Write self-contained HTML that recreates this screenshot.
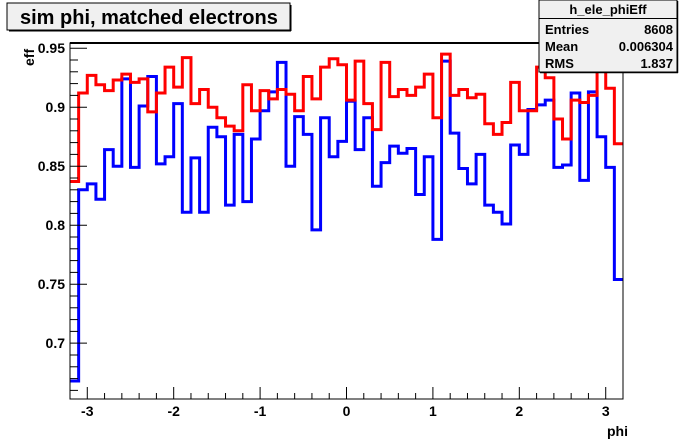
<!DOCTYPE html>
<html><head><meta charset="utf-8"><style>
body{margin:0;background:#fff;}
svg{display:block;font-family:"Liberation Sans",Arial,sans-serif;font-weight:bold;}
</style></head><body>
<svg width="692" height="444" viewBox="0 0 692 444">
<rect x="0" y="0" width="692" height="444" fill="#fff"/>
<g id="plot"></g>
<rect x="70" y="43" width="553" height="356" fill="none" stroke="#000" stroke-width="1"/>
<line x1="70" y1="43" x2="540" y2="43" stroke="#000" stroke-width="2"/>
<g id="axes"></g>
<g>
<rect x="7" y="3" width="283" height="27" fill="#f0f0f0" stroke="#000" stroke-width="1"/>
<line x1="9" y1="30.5" x2="291" y2="30.5" stroke="#000" stroke-width="2"/>
<line x1="290.5" y1="5" x2="290.5" y2="31" stroke="#000" stroke-width="2"/>
<text x="20" y="24" font-size="20" fill="#000">sim phi, matched electrons</text>
</g>
<g>
<rect x="539" y="0" width="138" height="72" fill="#f0f0f0" stroke="#000" stroke-width="1"/>
<line x1="540" y1="72.5" x2="678" y2="72.5" stroke="#000" stroke-width="1.5"/>
<line x1="677.5" y1="1" x2="677.5" y2="73" stroke="#000" stroke-width="1.5"/>
<line x1="539" y1="18.5" x2="677" y2="18.5" stroke="#000" stroke-width="1"/>
<text x="608" y="14" font-size="13" text-anchor="middle">h_ele_phiEff</text>
<text x="545" y="34" font-size="13">Entries</text>
<text x="673" y="34" font-size="13" text-anchor="end">8608</text>
<text x="545" y="51" font-size="13">Mean</text>
<text x="673" y="51" font-size="13" text-anchor="end">0.006304</text>
<text x="545" y="68" font-size="13">RMS</text>
<text x="673" y="68" font-size="13" text-anchor="end">1.837</text>
</g>
<text x="607" y="436" font-size="14">phi</text>
<text transform="translate(34,66) rotate(-90)" font-size="14">eff</text>
</svg>
<script>
const redVals=[0.837,0.912,0.927,0.919,0.914,0.923,0.928,0.921,0.924,0.896,0.912,0.934,0.917,0.942,0.903,0.915,0.900,0.891,0.884,0.880,0.919,0.897,0.914,0.907,0.915,0.911,0.897,0.926,0.907,0.934,0.941,0.936,0.906,0.939,0.903,0.881,0.938,0.909,0.915,0.910,0.917,0.928,0.891,0.945,0.910,0.915,0.908,0.911,0.886,0.877,0.887,0.921,0.897,0.897,0.934,0.925,0.890,0.873,0.906,0.904,0.910,0.944,0.916,0.869];
const blueVals=[0.668,0.830,0.835,0.822,0.864,0.850,0.924,0.849,0.901,0.926,0.852,0.858,0.903,0.811,0.857,0.811,0.883,0.875,0.817,0.877,0.820,0.873,0.897,0.913,0.938,0.850,0.892,0.877,0.796,0.891,0.858,0.871,0.905,0.864,0.891,0.833,0.853,0.867,0.861,0.865,0.826,0.858,0.788,0.939,0.878,0.848,0.835,0.860,0.817,0.811,0.801,0.868,0.860,0.898,0.902,0.906,0.849,0.851,0.912,0.838,0.913,0.875,0.849,0.754];
const yTickLabels=["0.7","0.75","0.8","0.85","0.9","0.95"];
const xTickLabels=["-3","-2","-1","0","1","2","3"];
const xMin=-3.2,xMax=3.2,yMin=0.6527,yMax=0.9544;
const L=70,R=623,T=43,B=399;
const sx=v=>L+(v-xMin)/(xMax-xMin)*(R-L);
const sy=v=>B-(v-yMin)/(yMax-yMin)*(B-T);
const NS="http://www.w3.org/2000/svg";
const plot=document.getElementById('plot'),axes=document.getElementById('axes');
function mk(tag,attrs,parent){const e=document.createElementNS(NS,tag);for(const k in attrs)e.setAttribute(k,attrs[k]);parent.appendChild(e);return e;}
function hist(vals,color,name){
  const n=vals.length,w=(xMax-xMin)/n;let d="";
  vals.forEach((v,i)=>{const x0=sx(xMin+i*w),x1=sx(xMin+(i+1)*w),y=Math.max(T,Math.min(B,sy(v)));d+=(i===0?"M":"L")+x0+","+y+"L"+x1+","+y;});
  const p=mk('path',{d:d,fill:'none',stroke:color,'stroke-width':3},plot);
  
  
}
hist(blueVals,'#0000ff','blue-series');
hist(redVals,'#ff0000','red-series');
// y ticks
for(let k=0;k<=30;k++){const v=0.65+k*0.01;if(v<yMin||v>yMax)continue;const y=sy(v);const major=(k%5===0);
  const t=mk('line',{x1:L,x2:L+(major?17:8),y1:y,y2:y,stroke:'#000','stroke-width':1},axes);
  
  }
yTickLabels.forEach(s=>{const t=mk('text',{x:L-5,y:sy(parseFloat(s))+5,'font-size':14,'text-anchor':'end'},axes);t.textContent=s;
  
  });
// x ticks
for(let k=-16;k<=16;k++){const v=k*0.2;if(v<xMin-1e-9||v>xMax+1e-9)continue;const x=sx(v);const major=(k%5===0);
  const t=mk('line',{x1:x,x2:x,y1:B,y2:B-(major?12:6),stroke:'#000','stroke-width':1},axes);
  
  }
xTickLabels.forEach(s=>{const t=mk('text',{x:sx(parseFloat(s)),y:B+17,'font-size':14,'text-anchor':'middle'},axes);t.textContent=s;
  
  });
</script>
</body></html>
